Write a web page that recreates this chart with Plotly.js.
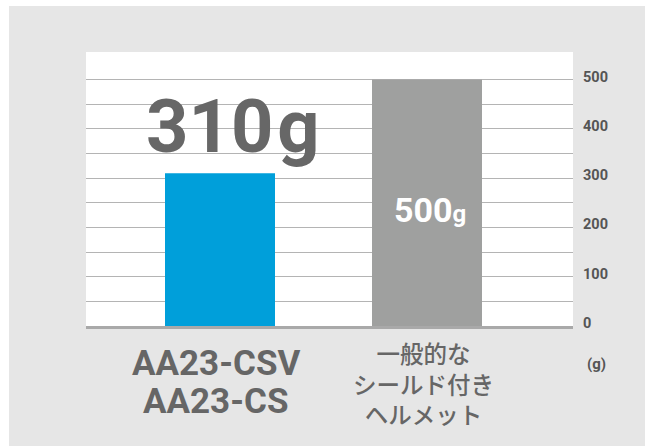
<!DOCTYPE html>
<html>
<head>
<meta charset="utf-8">
<script src="https://cdn.plot.ly/plotly-3.0.1.min.js"></script>
<style>
  html, body { margin: 0; padding: 0; background: #ffffff; width: 645px; height: 446px; overflow: hidden; }
  #chart { position: absolute; left: 9px; top: 6px; width: 636px; height: 440px; }
</style>
</head>
<body>
<div id="chart"></div>
<script>
// ---- data ----
const categories = ['AA23-CSV<br>AA23-CS', '一般的な<br>シールド付き<br>ヘルメット'];
const weights = [310, 500];
const unit = 'g';
const yTickVals = [0, 50, 100, 150, 200, 250, 300, 350, 400, 450, 500];
const yTickText = ['0', '', '100', '', '200', '', '300', '', '400', '', '500'];
const unitLabel = '(g)';

// ---- styling ----
const barColors = ['#009fda', '#9fa09f'];
const LAT_FONT = 'Roboto, "Liberation Sans", sans-serif';
const JP_FONT = '"Noto Sans CJK JP", "Noto Sans", sans-serif';
const TXT = '#666666';

// plot geometry helpers (pixel -> coordinates), plot area 86..573 x 52..326
const catPx = [220, 427];
const pxPerCat = 207;
const pxToX = px => (px - catPx[0]) / pxPerCat;
const plotBottom = 326, plotHeight = 274;
const pyToPaper = py => (plotBottom - py) / plotHeight;
const pxPerUnit = 0.493;
const pyToY = py => (plotBottom - py) / pxPerUnit;

const annotations = [];

// big value label for first bar
annotations.push({
  x: pxToX(233), y: pyToY(126), xref: 'x', yref: 'y',
  text: String(weights[0]) + '<span style="font-size:16px"> </span>' + unit,
  showarrow: false, xanchor: 'center', yanchor: 'middle',
  font: { family: LAT_FONT, size: 74, color: '#676767', weight: 700 }
});
// value label inside second bar
annotations.push({
  x: pxToX(430), y: pyToY(210), xref: 'x', yref: 'y',
  text: String(weights[1]) + '<span style="font-size:24px">' + unit + '</span>',
  showarrow: false, xanchor: 'center', yanchor: 'middle',
  font: { family: LAT_FONT, size: 34, color: '#ffffff', weight: 700 }
});

// category labels
const latLines = categories[0].split('<br>');
const latLineY = [363, 402];
latLines.forEach((t, j) => {
  annotations.push({
    x: pxToX(215.5), y: pyToPaper(latLineY[j]),
    xref: 'x', yref: 'paper', text: t, showarrow: false,
    xanchor: 'center', yanchor: 'middle',
    font: { family: LAT_FONT, size: 35, color: TXT, weight: 700 }
  });
});
annotations.push({
  x: pxToX(423), y: pyToPaper(383), xref: 'x', yref: 'paper',
  text: categories[1], showarrow: false, xanchor: 'center', yanchor: 'middle',
  font: { family: JP_FONT, size: 23.5, color: TXT, weight: 500 }
});

// unit label under axis ticks
annotations.push({
  x: (596 - 86) / 487, y: pyToPaper(364), xref: 'paper', yref: 'paper',
  text: unitLabel, showarrow: false, xanchor: 'center', yanchor: 'middle',
  font: { family: LAT_FONT, size: 15, color: '#555555', weight: 700 }
});

const trace = {
  type: 'bar',
  x: categories,
  y: weights,
  width: 110 / pxPerCat,
  marker: { color: barColors, line: { width: 0 } },
  hoverinfo: 'skip'
};

const layout = {
  width: 636, height: 440,
  margin: { l: 77, r: 72, t: 46, b: 120, pad: 0 },
  paper_bgcolor: '#e6e6e6',
  plot_bgcolor: '#ffffff',
  showlegend: false,
  xaxis: {
    type: 'category',
    range: [pxToX(86), pxToX(573)],
    showticklabels: false, ticks: '', showgrid: false, zeroline: false,
    showline: true, linecolor: '#a9a9a9', linewidth: 3, fixedrange: true
  },
  yaxis: {
    range: [0, (plotBottom - 52) / pxPerUnit],
    side: 'right',
    tickmode: 'array', tickvals: yTickVals, ticktext: yTickText,
    ticks: '', showline: false, zeroline: false,
    showgrid: true, gridcolor: '#b4b4b4', gridwidth: 1,
    ticklabelstandoff: 9, ticklabelshift: -3,
    tickfont: { family: LAT_FONT, size: 14.5, color: '#555555', weight: 700 },
    fixedrange: true
  },
  annotations: annotations
};

Plotly.newPlot('chart', [trace], layout, { displayModeBar: false, staticPlot: true });
</script>
</body>
</html>
